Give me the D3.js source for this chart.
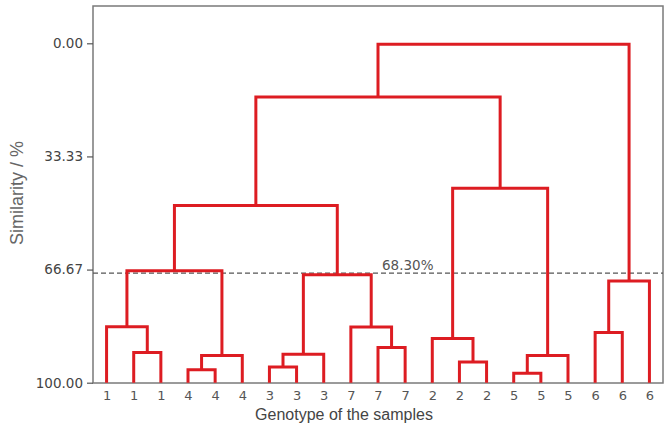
<!DOCTYPE html>
<html>
<head>
<meta charset="utf-8">
<script src="https://cdn.jsdelivr.net/npm/d3@7"></script>
<style>
  body { margin: 0; background: #fff; }
  svg { display: block; }
</style>
</head>
<body>
<div id="chart-area"></div>
<script>
// leaf labels (genotype of each sample), left to right
const genotypes = [1, 1, 1, 4, 4, 4, 3, 3, 3, 7, 7, 7, 2, 2, 2, 5, 5, 5, 6, 6, 6]

// linkage: [childA, childB, similarity level]; leaves are 0..20, new nodes 21..
const merges = [
  [1, 2, 91.1],
  [0, 21, 83.5],
  [3, 4, 96.2],
  [23, 5, 92.0],
  [22, 24, 67.0],
  [6, 7, 95.4],
  [26, 8, 91.6],
  [10, 11, 89.6],
  [9, 28, 83.6],
  [27, 29, 68.2],
  [25, 30, 47.8],
  [13, 14, 93.9],
  [12, 32, 87.0],
  [15, 16, 97.2],
  [34, 17, 92.0],
  [33, 35, 42.7],
  [31, 36, 15.8],
  [18, 19, 85.2],
  [38, 20, 70.0],
  [37, 39, 0.3]
]

const yTicks = [0, 33.33, 66.67, 100]
const cutLevel = 68.30

const width = 672, height = 424
const mLeft = 93, mRight = 663, mTop = 6, mBottom = 383

const svg = d3.select("#chart-area").append("svg")
  .attr("width", width)
  .attr("height", height)

const x = d3.scalePoint()
  .domain(d3.range(genotypes.length))
  .range([mLeft, mRight])
  .padding(0.5)

const y = d3.scaleLinear()
  .domain([0, 100])
  .range([43.3, 382.7])

// frame
svg.append("rect")
  .attr("x", mLeft)
  .attr("y", mTop)
  .attr("width", mRight - mLeft)
  .attr("height", mBottom - mTop)
  .attr("fill", "none")
  .attr("stroke", "#7a7a7a")
  .attr("stroke-width", 1.5)

// y axis
const yAxis = svg.append("g")
  .attr("transform", `translate(${mLeft},0)`)
  .call(d3.axisLeft(y).tickValues(yTicks).tickFormat(d3.format(".2f")).tickSize(6).tickSizeOuter(0))
yAxis.select(".domain").remove()
yAxis.selectAll("line").attr("stroke", "#555").attr("stroke-width", 1.2)
yAxis.selectAll("text")
  .attr("fill", "#444")
  .style("font-family", "DejaVu Sans, sans-serif")
  .style("font-size", "13.5px")
  .attr("x", -10)

// x labels
const xAxis = svg.append("g")
  .attr("transform", `translate(0,${mBottom})`)
  .call(d3.axisBottom(x).tickFormat(i => genotypes[i]).tickSize(0).tickPadding(8))
xAxis.select(".domain").remove()
xAxis.selectAll("text")
  .attr("fill", "#555")
  .style("font-family", "DejaVu Sans, sans-serif")
  .style("font-size", "13px")

// cut line
svg.append("line")
  .attr("x1", mLeft)
  .attr("x2", mRight)
  .attr("y1", y(cutLevel) - 2)
  .attr("y2", y(cutLevel) - 2)
  .attr("stroke", "#555")
  .attr("stroke-width", 1.3)
  .attr("stroke-dasharray", "5,3")

svg.append("text")
  .attr("x", 382)
  .attr("y", y(cutLevel) - 5)
  .attr("fill", "#555")
  .style("font-family", "DejaVu Sans, sans-serif")
  .style("font-size", "13.5px")
  .text(cutLevel.toFixed(2) + "%")

// node positions
const nodes = genotypes.map((g, i) => ({ x: x(i), h: 100 }))
merges.forEach(m => {
  const a = nodes[m[0]], b = nodes[m[1]]
  nodes.push({ x: (a.x + b.x) / 2, h: m[2] })
})

// dendrogram links
svg.append("g").selectAll("path")
  .data(merges)
  .enter().append("path")
    .attr("d", m => {
      const a = nodes[m[0]], b = nodes[m[1]]
      return `M${a.x},${y(a.h)}V${y(m[2])}H${b.x}V${y(b.h)}`
    })
    .attr("fill", "none")
    .attr("stroke", "#dd1c22")
    .attr("stroke-width", 3)
    .attr("stroke-linejoin", "miter")

// axis titles
svg.append("text")
  .attr("transform", `translate(23,193) rotate(-90)`)
  .attr("text-anchor", "middle")
  .attr("fill", "#666")
  .style("font-family", "Liberation Sans, Arial, sans-serif")
  .style("font-size", "18px")
  .text("Similarity / %")

svg.append("text")
  .attr("x", 344)
  .attr("y", 420)
  .attr("text-anchor", "middle")
  .attr("fill", "#444")
  .style("font-family", "Liberation Sans, Arial, sans-serif")
  .style("font-size", "16px")
  .text("Genotype of the samples")
</script>
</body>
</html>
